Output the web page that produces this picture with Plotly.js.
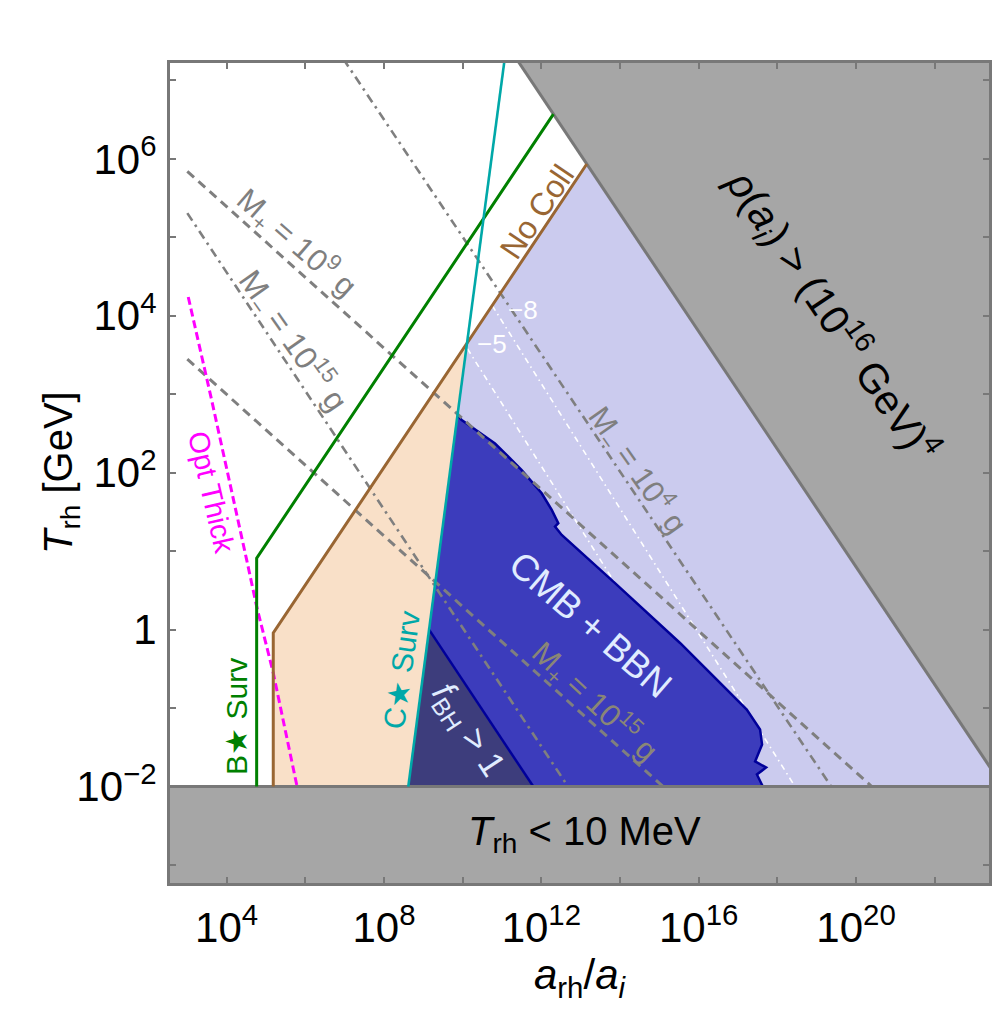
<!DOCTYPE html>
<html>
<head>
<meta charset="utf-8">
<script src="https://cdn.plot.ly/plotly-3.0.1.min.js"></script>
<style>
  body { margin: 0; background: #fff; }
  #plot { width: 997px; height: 1016px; }
</style>
</head>
<body>
<div id="plot"></div>
<script>
// all values are exponents: log10(a_rh/a_i) and log10(T_rh / GeV)

// rho(a_i) > (1e16 GeV)^4 boundary and the T_rh < 10 MeV floor
const ceiling_lx = [11.2, 23.6, 23.6];
const ceiling_ly = [7.4, -1.9, 7.4];
const floor_lx = [2.4, 23.6, 23.6, 2.4];
const floor_ly = [-2, -2, -3.4, -3.4];

// survival / collision lines
const bsurv_lx = [4.763, 4.763, 12.307];
const bsurv_ly = [-2, 0.911, 6.57];
const nocoll_lx = [5.185, 5.185, 13.155];
const nocoll_ly = [-2, -0.043, 5.934];
const csurv_lx = [8.617, 11.075];
const csurv_ly = [-2, 7.3];
const optthick_lx = [3.024, 3.405, 3.619, 4.509, 4.763, 5.185, 5.79];
const optthick_ly = [4.239, 3.392, 2.925, 0.889, 0.295, -0.552, -2];

// shaded regions
const peach_lx = [5.185, 5.185, 10.111, 8.617];
const peach_ly = [-2, -0.043, 3.652, -2];
const lav_lx = [8.617, 10.111, 13.155, 23.6, 23.6];
const lav_ly = [-2, 3.652, 5.934, -1.9, -2];
const cmb_lx = [9.868, 9.975, 10.822, 11.501, 12.009, 12.264, 12.431, 12.348, 12.518, 13.873, 15.526, 17.222, 17.56, 17.611, 17.434, 17.713, 17.48, 17.63];
const cmb_ly = [2.734, 2.67, 2.374, 2.033, 1.738, 1.525, 1.356, 1.313, 1.207, 0.593, -0.17, -1.019, -1.273, -1.464, -1.68, -1.757, -1.846, -2];
const fbh_lx = [9.146, 8.617, 11.796];
const fbh_ly = [0, -2, -2];

// M+ / M- contours (grey) and the white -5, -8 contours
const mplus9_lx = [3.0, 20.4];
const mplus9_ly = [5.841, -2];
const mplus15_lx = [3.0, 15.093];
const mplus15_ly = [3.447, -2];
const mminus15_lx = [3.0, 12.678];
const mminus15_ly = [5.308, -2];
const mminus4_lx = [6.662, 19.37];
const mminus4_ly = [7.5, -2];
const w5_lx = [10.12, 17.13];
const w5_ly = [3.58, -2];
const w8_lx = [10.75, 18.45];
const w8_ly = [4.13, -2];

// ticks
const x_label_exp = [4, 8, 12, 16, 20];
const x_minor_exp = [6, 10, 14, 18, 22];
const y_label_exp = [-2, 0, 2, 4, 6];
const y_minor_exp = [-3, -1, 1, 3, 5, 7];

const FONT = 'Liberation Sans, Arial, sans-serif';
const GREY = '#7f7f7f';
const FRAME = '#787878';

let to_val = v => Math.pow(10, v);

function region(lx, ly, color){
    return {x: lx.map(to_val), y: ly.map(to_val), mode: 'lines', fill: 'toself',
        fillcolor: color, line: {width: 0}, hoverinfo: 'skip'};
}
function curve(lx, ly, color, width, dash){
    return {x: lx.map(to_val), y: ly.map(to_val), mode: 'lines',
        line: {color: color, width: width, dash: dash || 'solid'}, hoverinfo: 'skip'};
}
function label(text, lx, ly, angle, size, color){
    return {text: text, x: lx, y: ly, xref: 'x', yref: 'y', showarrow: false,
        textangle: angle, font: {family: FONT, size: size, color: color}};
}
function pow_text(e){
    if(e == 0) return '1';
    return '10<sup>' + (e < 0 ? '\u2212' + (-e) : e) + '</sup>';
}

const DASH = '9px,6px';
const DASHDOT = '9px,5px,2.5px,5px';
const WDASHDOT = '6px,4px,1.5px,4px';

let traces = [
    region(peach_lx, peach_ly, '#f9e0c8'),
    region(lav_lx, lav_ly, '#cbcbee'),
    curve(w5_lx, w5_ly, '#ffffff', 1.6, WDASHDOT),
    curve(w8_lx, w8_ly, '#ffffff', 1.6, WDASHDOT),
    region(cmb_lx.concat([8.617]), cmb_ly.concat([-2]), '#3c3cbc'),
    curve(cmb_lx, cmb_ly, '#00009a', 2.5),
    region(fbh_lx, fbh_ly, '#3d3d7c'),
    curve([fbh_lx[0], fbh_lx[2]], [fbh_ly[0], fbh_ly[2]], '#00009a', 2.5),
    curve(mplus9_lx, mplus9_ly, GREY, 3, DASH),
    curve(mplus15_lx, mplus15_ly, GREY, 3, DASH),
    curve(mminus15_lx, mminus15_ly, GREY, 2.6, DASHDOT),
    curve(mminus4_lx, mminus4_ly, GREY, 2.6, DASHDOT),
    region(ceiling_lx, ceiling_ly, '#a6a6a6'),
    curve(ceiling_lx.slice(0, 2), ceiling_ly.slice(0, 2), FRAME, 3),
    region(floor_lx, floor_ly, '#a6a6a6'),
    curve(floor_lx.slice(0, 2), floor_ly.slice(0, 2), FRAME, 3),
    curve(optthick_lx, optthick_ly, '#ff00ff', 3, '8px,4px'),
    curve(bsurv_lx, bsurv_ly, '#008000', 3),
    curve(nocoll_lx, nocoll_ly, '#996633', 3),
    curve(csurv_lx, csurv_ly, '#00a8a8', 2.6)
];

let annotations = [
    label('<i>\u03c1</i>(<i>a<sub>i</sub></i>) &gt; (10<sup>16</sup> GeV)<sup>4</sup>', 19.39, 4.0, 56, 41, '#000000'),
    label('<i>T</i><sub>rh</sub> &lt; 10 MeV', 13.1, -2.61, 0, 40, '#000000'),
    label('No Coll', 11.89, 5.317, -56, 32, '#996633'),
    label('M<sub>+</sub> = 10<sup>9</sup> g', 5.78, 4.939, 41, 31, GREY),
    label('M<sub>\u2212</sub> = 10<sup>15</sup> g', 5.693, 3.688, 55, 32, GREY),
    label('M<sub>\u2212</sub> = 10<sup>4</sup> g', 14.465, 2.034, 55, 31, GREY),
    label('M<sub>+</sub> = 10<sup>15</sup> g', 13.364, -0.913, 43, 31, '#8a8676'),
    label('CMB + BBN', 13.237, 0.062, 41, 37, '#e0ecff'),
    label('<i>f</i><sub>BH</sub> &gt; 1', 10.135, -1.286, 57, 35, '#e0ecff'),
    label('C\u2605 Surv', 8.45, -0.51, -82, 30, '#00a8a8'),
    label('B\u2605 Surv', 4.254, -1.104, -90, 30, '#008000'),
    label('Opt Thick', 3.619, 1.758, 77, 29, '#ff00ff'),
    label('\u22125', 10.742, 3.646, 0, 26, '#ffffff'),
    label('\u22128', 11.541, 4.07, 0, 26, '#ffffff'),
    // y axis title, placed by hand so it sits centred like the reference
    {text: '<i>T</i><sub>rh</sub> [GeV]', x: -0.166, y: 0.5, xref: 'paper', yref: 'paper',
        showarrow: false, textangle: -90, font: {family: FONT, size: 40, color: '#000000'}}
];

let axis_common = {
    type: 'log', showgrid: false, zeroline: false,
    showline: true, linecolor: FRAME, linewidth: 3, mirror: 'ticks',
    ticks: 'inside', ticklen: 6, tickwidth: 2, tickcolor: FRAME,
    tickfont: {family: FONT, size: 42, color: '#000000'},
    tickmode: 'array'
};

let layout = {
    width: 997, height: 1016,
    margin: {l: 170, r: 8, t: 63, b: 133},
    paper_bgcolor: '#ffffff', plot_bgcolor: '#ffffff',
    showlegend: false,
    font: {family: FONT, color: '#000000'},
    xaxis: Object.assign({}, axis_common, {
        range: [2.56, 23.38],
        tickvals: x_label_exp.map(to_val),
        ticktext: x_label_exp.map(pow_text),
        minor: {tickmode: 'array', tickvals: x_minor_exp.map(to_val), ticks: 'inside', ticklen: 6, tickwidth: 2, tickcolor: FRAME},
        ticklabelstandoff: 6,
        title: {text: '<i>a</i><sub>rh</sub>/<i>a<sub>i</sub></i>', font: {family: FONT, size: 42, color: '#000000'}, standoff: 10}
    }),
    yaxis: Object.assign({}, axis_common, {
        range: [-3.229, 7.221],
        tickvals: y_label_exp.map(to_val),
        ticktext: y_label_exp.map(pow_text),
        minor: {tickmode: 'array', tickvals: y_minor_exp.map(to_val), ticks: 'inside', ticklen: 6, tickwidth: 2, tickcolor: FRAME},
        ticklabelstandoff: 2
    }),
    annotations: annotations
};

Plotly.newPlot('plot', traces, layout, {staticPlot: true, displayModeBar: false});
</script>
</body>
</html>
